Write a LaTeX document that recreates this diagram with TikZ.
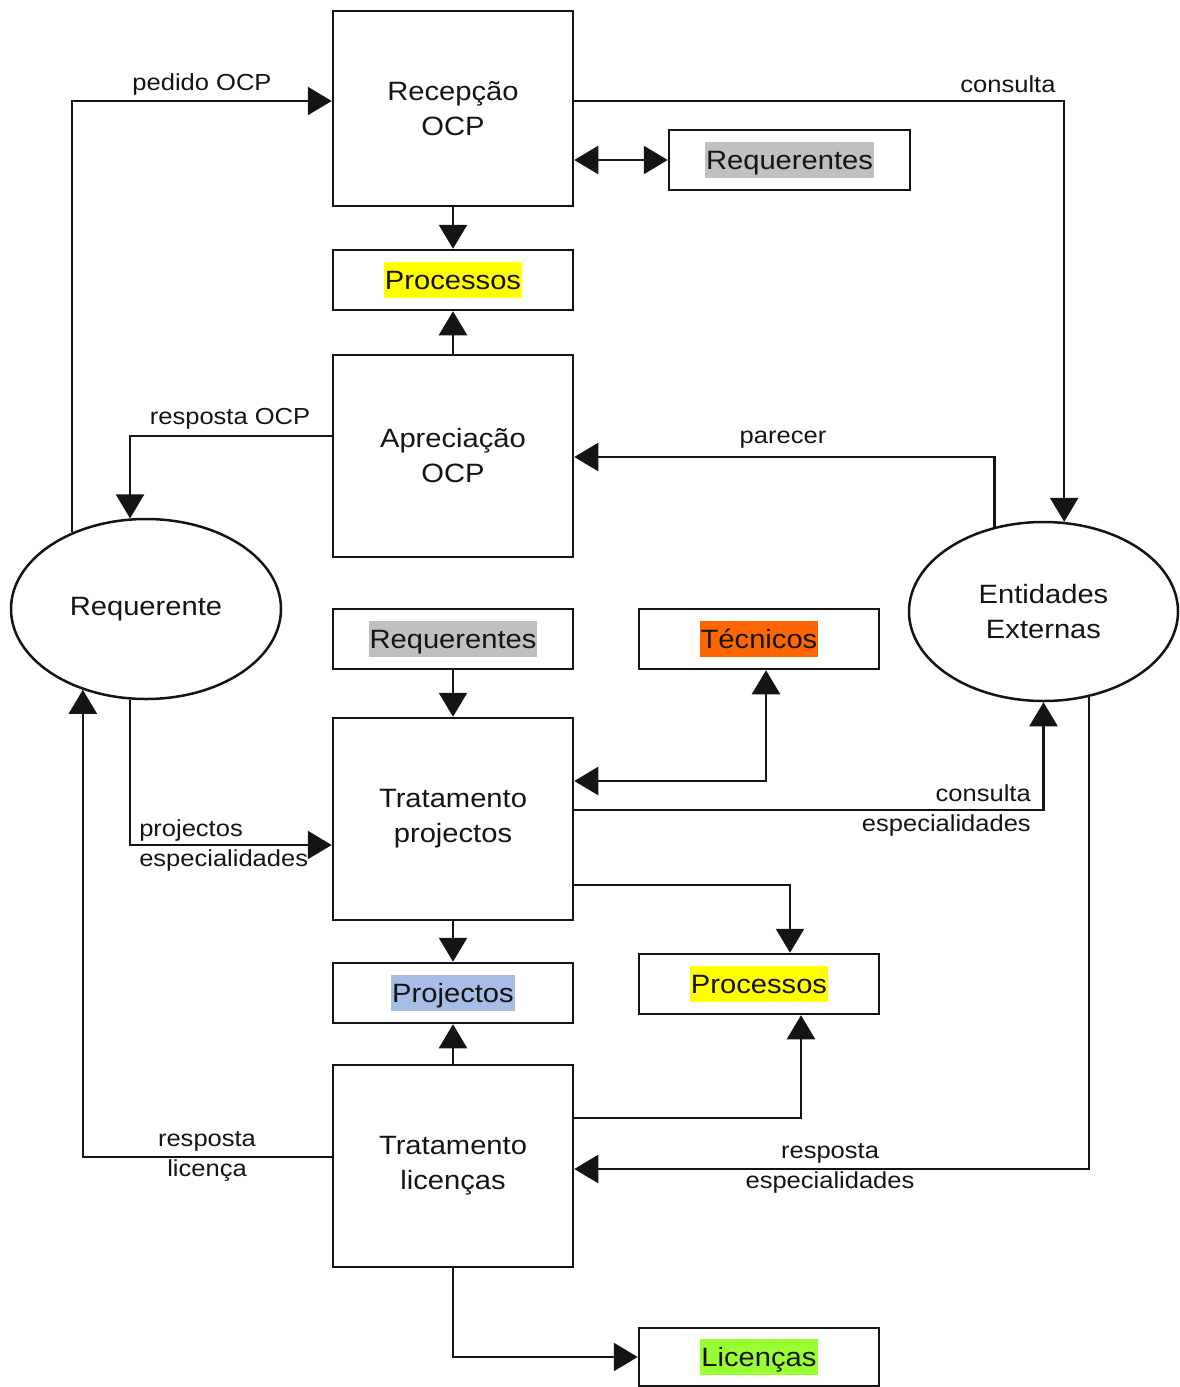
\documentclass[tikz,border=0pt]{standalone}
\usepackage{fontspec}
\setmainfont{Liberation Sans}[FakeStretch=1.1]
\usetikzlibrary{arrows.meta,shapes.geometric}

\definecolor{hlyellow}{RGB}{255,255,0}
\definecolor{hlgray}{RGB}{192,192,192}
\definecolor{hlorange}{RGB}{255,102,0}
\definecolor{hlblue}{RGB}{166,189,230}
\definecolor{hlgreen}{RGB}{153,255,51}
\definecolor{ink}{RGB}{20,20,20}

% highlighted word, as in a marked text run
\newcommand{\hlword}[2]{{\setlength{\fboxsep}{0pt}\colorbox{#1}{\rule[-4.5pt]{0pt}{18pt}\hspace{0.5pt}#2\hspace{0.5pt}}}}

\begin{document}
\begin{tikzpicture}[x=0.5pt,y=-0.5pt,
  line width=1.25pt, draw=ink, text=ink,
  mainfont/.style={font=\fontsize{13.25pt}{17.5pt}\selectfont},
  lblfont/.style={font=\fontsize{11.6pt}{15pt}\selectfont},
  process/.style={draw, rectangle, minimum width=120pt, minimum height=101pt,
    inner sep=0pt, align=center, mainfont},
  store/.style={draw, rectangle, minimum width=120pt, minimum height=30pt,
    inner sep=0pt, align=center, mainfont},
  actor/.style={draw, ellipse, minimum width=135pt, minimum height=90pt,
    inner sep=0pt, align=center, mainfont},
  lbl/.style={inner sep=0pt, lblfont},
  arr/.style={-{Triangle[length=12pt,width=14pt]}},
  dbl/.style={{Triangle[length=12pt,width=14pt]}-{Triangle[length=12pt,width=14pt]}}
]
\useasboundingbox (0,0) rectangle (1179,1387);

% processes
\node[process, minimum height=97.5pt] (rec) at (453,108.5) {Recepção\\OCP};
\node[process] (apr) at (453,456) {Apreciação\\OCP};
\node[process] (tp)  at (453,819) {Tratamento\\projectos};
\node[process] (tl)  at (453,1166) {Tratamento\\licenças};

% external actors
\node[actor] (reqE) at (146,609) {Requerente};
\node[actor, minimum width=134.5pt, minimum height=89.5pt] (ent) at (1043.5,611.5) {Entidades\\Externas};

% data stores
\node[store] (proc1) at (453,280) {\hlword{hlyellow}{Processos}};
\node[store, minimum width=120.5pt] (req1) at (789.5,160) {\hlword{hlgray}{Requerentes}};
\node[store] (req2) at (453,639) {\hlword{hlgray}{Requerentes}};
\node[store] (tec) at (759,639) {\hlword{hlorange}{Técnicos}};
\node[store] (projb) at (453,993) {\hlword{hlblue}{Projectos}};
\node[store] (proc2) at (759,984) {\hlword{hlyellow}{Processos}};
\node[store, minimum height=29pt] (lic) at (759,1357) {\hlword{hlgreen}{Licenças}};

% flows
\draw[arr] (reqE.134) |- (rec.west |- 0,101);
\draw[arr] (rec.east |- 0,101) -| (ent.77);
\draw[dbl] (rec.east |- req1.west) -- (req1.west);
\draw[arr] (rec.south) -- (proc1.north);
\draw[arr] (apr.north) -- (proc1.south);
\draw[arr] (apr.west |- 0,436) -| (reqE.100);
\draw[arr] (ent.120) |- (apr.east |- 0,457);
\draw[arr] (req2.south) -- (tp.north);
\draw[dbl] (tp.east |- 0,781) -| ([xshift=3.5pt]tec.south);
\draw[arr] (tp.east |- 0,810) -| (ent.south);
\draw[arr] (tp.east |- 0,885) -| ([xshift=15.5pt]proc2.north);
\draw[arr] (reqE.260) |- (tp.west |- 0,845);
\draw[arr] (tp.south) -- (projb.north);
\draw[arr] (tl.north) -- (projb.south);
\draw[arr] (tl.east |- 0,1118) -| ([xshift=21pt]proc2.south);
\draw[arr] (tl.west |- 0,1157) -| (reqE.232);
\draw[arr] (ent.298) |- (tl.east |- 0,1169);
\draw[arr] (tl.south) |- (lic.west);

% flow labels
\node[lbl] (l1) at (202,84) {pedido OCP};
\node[lbl] (l2) at (1008,84) {consulta};
\node[lbl] (l3) at (230,419) {resposta OCP};
\node[lbl] (l4) at (783,440) {parecer};
\node[lbl, align=right, anchor=east] (l5) at (1032,810) {consulta\\especialidades};
\node[lbl, align=left, anchor=west] (l6) at (138,845) {projectos\\especialidades};
\node[lbl, align=center] (l7) at (207,1156) {resposta\\licença};
\node[lbl, align=center] (l8) at (830,1168) {resposta\\especialidades};
\end{tikzpicture}
\end{document}
